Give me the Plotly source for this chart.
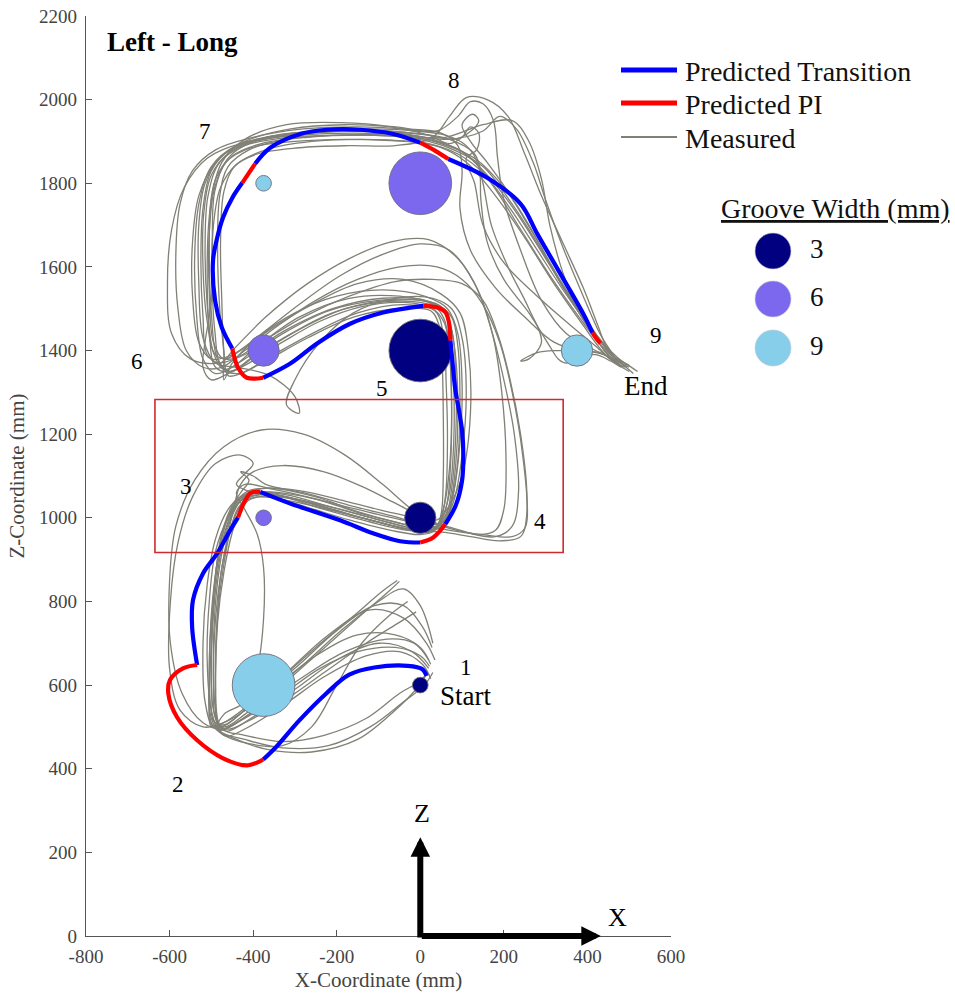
import plotly.graph_objects as go

FONT = "Liberation Serif, Times New Roman, serif"

# ---------------- data ----------------
# gates (targets) along the course, in order 1..9
gate_id = ["1", "2", "3", "4", "5", "6", "7", "8", "9"]
gate_x = [0, -375, -375, 0, 0, -375, -375, 0, 375]
gate_z = [600, 600, 1000, 1000, 1400, 1400, 1800, 1800, 1400]
gate_groove_mm = [3, 9, 6, 3, 3, 6, 9, 6, 9]
gate_diameter_mm = [37.5, 150, 37.5, 75, 150, 75, 37.5, 150, 75]

groove_widths = [3, 6, 9]
groove_colors = ["#000080", "#7b68ee", "#87ceeb"]

# predicted trajectory: transition segments and point-of-interest (PI) segments
transition_segments = [
    [(15, 622), (5, 638), (-30, 646), (-110, 642), (-170, 625), (-225, 580), (-290, 515), (-345, 452), (-376, 422)],
    [(-534, 648), (-546, 738), (-544, 803), (-520, 867), (-486, 915), (-455, 970), (-436, 1001)],
    [(-383, 1062), (-311, 1034), (-192, 994), (-113, 963), (-48, 944), (0, 941)],
    [(60, 985), (85, 1030), (100, 1089), (103, 1150), (100, 1209), (92, 1260), (84, 1305), (76, 1383), (72, 1424)],
    [(7, 1507), (-89, 1491), (-168, 1464), (-247, 1417), (-311, 1369), (-376, 1335)],
    [(-450, 1405), (-475, 1455), (-491, 1519), (-496, 1615), (-486, 1670), (-472, 1718), (-450, 1765), (-426, 1801)],
    [(-395, 1847), (-359, 1885), (-287, 1918), (-223, 1928), (-144, 1928), (-65, 1918), (0, 1897)],
    [(67, 1858), (160, 1813), (240, 1751), (280, 1679), (335, 1584), (390, 1488), (412, 1443)],
]
pi_segments = [
    [(-376, 422), (-414, 408), (-472, 425), (-534, 468), (-582, 523), (-603, 580), (-599, 612), (-568, 640), (-534, 648)],
    [(-436, 1001), (-420, 1040), (-405, 1060), (-383, 1062)],
    [(0, 941), (31, 953), (60, 985)],
    [(72, 1424), (68, 1470), (60, 1492), (41, 1503), (7, 1507)],
    [(-376, 1335), (-415, 1335), (-436, 1359), (-450, 1405)],
    [(-426, 1801), (-410, 1825), (-395, 1847)],
    [(0, 1897), (35, 1878), (67, 1858)],
    [(412, 1443), (422, 1428), (431, 1417)],
]

# measured hand trajectories (X, Z in mm)
run_01 = [(25, 650), (0, 690), (-60, 720), (-150, 720), (-250, 670), (-340, 600), (-420, 530), (-470, 500), (-490, 520), (-495, 620), (-490, 760), (-475, 880), (-455, 970), (-435, 1025), (-405, 1050), (-350, 1055), (-250, 1030), (-140, 1000), (-40, 975), (20, 965), (45, 985), (60, 1050), (65, 1180), (62, 1320), (55, 1440), (35, 1495), (-40, 1510), (-150, 1490), (-260, 1440), (-360, 1385), (-435, 1345), (-475, 1360), (-492, 1450), (-498, 1580), (-495, 1700), (-478, 1790), (-440, 1845), (-370, 1880), (-260, 1900), (-140, 1905), (-30, 1900), (50, 1885), (110, 1850), (180, 1770), (250, 1670), (320, 1560), (390, 1460), (430, 1405), (460, 1375), (490, 1360)]
run_02 = [(30, 630), (10, 600), (-40, 560), (-120, 500), (-220, 455), (-330, 450), (-420, 470), (-480, 490), (-500, 540), (-510, 660), (-505, 800), (-490, 920), (-460, 1000), (-430, 1040), (-390, 1060), (-320, 1055), (-210, 1025), (-100, 995), (-10, 975), (40, 980), (70, 1030), (85, 1130), (90, 1280), (80, 1420), (60, 1490), (10, 1520), (-90, 1525), (-210, 1500), (-320, 1450), (-410, 1395), (-480, 1370), (-550, 1380), (-595, 1440), (-605, 1560), (-595, 1690), (-565, 1790), (-510, 1860), (-430, 1895), (-320, 1915), (-190, 1925), (-70, 1920), (30, 1905), (100, 1875), (160, 1820), (230, 1730), (300, 1620), (370, 1510), (420, 1440), (455, 1395), (480, 1370)]
run_03 = [(-50, 848), (-80, 820), (-150, 760), (-240, 680), (-330, 600), (-410, 530), (-470, 495), (-520, 510), (-570, 580), (-598, 700), (-600, 850), (-585, 980), (-540, 1090), (-470, 1170), (-380, 1210), (-280, 1200), (-180, 1150), (-90, 1080), (-20, 1020), (40, 985), (110, 965), (180, 955), (220, 980), (235, 1060), (225, 1200), (200, 1330), (170, 1450), (130, 1560), (70, 1640), (0, 1655), (-90, 1630), (-190, 1580), (-290, 1510), (-380, 1440), (-450, 1390), (-500, 1380), (-530, 1420), (-545, 1530), (-545, 1660), (-530, 1770), (-490, 1850), (-420, 1900), (-310, 1930), (-180, 1940), (-60, 1935), (40, 1925), (90, 1960), (120, 1995), (150, 1990), (175, 1950), (185, 1860), (200, 1760), (240, 1640), (290, 1520), (350, 1440), (410, 1405), (450, 1385), (500, 1360)]
run_04 = [(-10, 775), (-50, 750), (-130, 700), (-230, 630), (-330, 560), (-420, 510), (-465, 490), (-485, 515), (-490, 630), (-485, 770), (-470, 890), (-450, 985), (-425, 1035), (-390, 1050), (-310, 1040), (-200, 1015), (-100, 990), (-20, 970), (35, 975), (55, 1020), (70, 1120), (75, 1260), (70, 1400), (55, 1480), (20, 1515), (-70, 1520), (-180, 1500), (-290, 1450), (-390, 1390), (-455, 1350), (-485, 1380), (-500, 1490), (-505, 1630), (-500, 1760), (-475, 1850), (-420, 1905), (-320, 1940), (-190, 1945), (-70, 1935), (20, 1915), (70, 1895), (100, 1910), (120, 1935), (140, 1920), (135, 1880), (110, 1860), (130, 1800), (150, 1700), (200, 1610), (280, 1530), (360, 1460), (420, 1410), (460, 1375), (500, 1350)]
run_05 = [(15, 625), (-10, 590), (-60, 540), (-150, 470), (-260, 440), (-360, 445), (-440, 470), (-485, 495), (-470, 530), (-420, 560), (-390, 640), (-375, 760), (-375, 880), (-390, 960), (-420, 1020), (-440, 1060), (-420, 1080), (-360, 1070), (-250, 1045), (-140, 1010), (-40, 985), (30, 970), (60, 990), (80, 1060), (95, 1180), (100, 1320), (90, 1440), (65, 1500), (10, 1530), (-90, 1545), (-200, 1530), (-300, 1490), (-390, 1430), (-450, 1370), (-470, 1330), (-470, 1390), (-480, 1500), (-485, 1640), (-480, 1770), (-460, 1840), (-410, 1880), (-320, 1905), (-200, 1915), (-80, 1915), (20, 1900), (80, 1880), (150, 1840), (220, 1750), (290, 1640), (360, 1520), (410, 1450), (440, 1400), (470, 1370)]
run_06 = [(35, 660), (15, 700), (-40, 760), (-120, 780), (-220, 720), (-320, 630), (-410, 550), (-465, 505), (-495, 500), (-515, 560), (-520, 700), (-510, 840), (-490, 950), (-460, 1020), (-430, 1050), (-380, 1070), (-290, 1065), (-180, 1040), (-80, 1015), (10, 995), (80, 975), (140, 960), (180, 970), (200, 1020), (205, 1150), (195, 1300), (175, 1430), (140, 1540), (90, 1620), (20, 1665), (-70, 1660), (-170, 1620), (-270, 1560), (-370, 1480), (-440, 1410), (-480, 1370), (-510, 1390), (-520, 1480), (-525, 1610), (-520, 1740), (-500, 1830), (-455, 1880), (-370, 1910), (-250, 1925), (-120, 1930), (-10, 1925), (60, 1915), (110, 1890), (140, 1840), (145, 1760), (160, 1660), (200, 1570), (260, 1490), (310, 1410), (330, 1380), (350, 1370), (380, 1385), (420, 1390), (455, 1375), (480, 1360)]
run_07 = [(20, 640), (-20, 680), (-100, 700), (-200, 660), (-300, 590), (-390, 530), (-455, 495), (-480, 505), (-490, 600), (-487, 740), (-478, 860), (-460, 960), (-445, 1030), (-430, 1080), (-400, 1110), (-330, 1125), (-230, 1110), (-140, 1075), (-60, 1035), (0, 1005), (40, 995), (70, 1030), (100, 1100), (120, 1250), (115, 1400), (95, 1490), (50, 1535), (-40, 1570), (-150, 1560), (-260, 1510), (-360, 1450), (-430, 1400), (-470, 1380), (-495, 1420), (-505, 1540), (-505, 1680), (-492, 1790), (-460, 1860), (-400, 1900), (-300, 1920), (-170, 1925), (-50, 1920), (60, 1905), (150, 1925), (190, 1960), (230, 1930), (270, 1850), (300, 1760), (340, 1650), (390, 1530), (430, 1440), (455, 1400), (475, 1370)]
run_08 = [(25, 615), (5, 650), (-50, 680), (-130, 670), (-230, 620), (-330, 550), (-420, 495), (-465, 478), (-485, 500), (-490, 610), (-485, 750), (-470, 870), (-450, 965), (-430, 1020), (-405, 1045), (-360, 1050), (-270, 1025), (-170, 995), (-70, 970), (0, 960), (35, 970), (50, 1010), (55, 1100), (55, 1250), (52, 1380), (45, 1460), (25, 1495), (-50, 1500), (-160, 1480), (-270, 1430), (-370, 1375), (-430, 1345), (-460, 1340), (-470, 1400), (-475, 1520), (-478, 1660), (-470, 1780), (-445, 1840), (-390, 1870), (-290, 1885), (-170, 1890), (-60, 1890), (30, 1910), (70, 1960), (110, 2005), (160, 2000), (210, 1960), (250, 1870), (290, 1770), (340, 1660), (390, 1550), (425, 1460), (445, 1410), (470, 1380), (500, 1365)]
run_09 = [(30, 700), (0, 790), (-40, 830), (-100, 800), (-190, 730), (-290, 640), (-390, 560), (-460, 515), (-520, 500), (-575, 540), (-600, 640), (-598, 800), (-580, 940), (-545, 1050), (-490, 1130), (-430, 1150), (-400, 1130), (-420, 1105), (-440, 1080), (-400, 1060), (-300, 1045), (-190, 1020), (-80, 990), (0, 970), (60, 965), (120, 955), (190, 945), (240, 955), (255, 1010), (245, 1150), (220, 1300), (190, 1420), (150, 1510), (100, 1570), (40, 1600), (-50, 1600), (-150, 1570), (-250, 1520), (-340, 1460), (-420, 1400), (-475, 1360), (-520, 1360), (-560, 1400), (-580, 1500), (-585, 1630), (-575, 1750), (-545, 1830), (-490, 1880), (-400, 1910), (-280, 1930), (-150, 1935), (-40, 1930), (50, 1920), (90, 1890), (100, 1830), (95, 1740), (120, 1640), (180, 1550), (250, 1480), (320, 1420), (380, 1400), (430, 1395), (470, 1370)]
run_10 = [(20, 660), (-15, 700), (-80, 710), (-180, 680), (-280, 620), (-380, 550), (-450, 505), (-478, 495), (-492, 560), (-495, 690), (-488, 820), (-472, 930), (-452, 1000), (-430, 1040), (-395, 1055), (-330, 1050), (-230, 1020), (-120, 990), (-30, 970), (25, 968), (50, 995), (70, 1060), (80, 1180), (80, 1320), (72, 1440), (50, 1505), (0, 1520), (-100, 1520), (-220, 1495), (-330, 1440), (-420, 1380), (-470, 1355), (-495, 1395), (-510, 1510), (-515, 1650), (-508, 1770), (-480, 1850), (-420, 1890), (-310, 1910), (-180, 1915), (-60, 1912), (40, 1900), (110, 1870), (170, 1800), (240, 1690), (310, 1580), (380, 1480), (425, 1420), (455, 1385), (485, 1360)]
run_11 = [(-30, 800), (-70, 770), (-140, 700), (-200, 600), (-260, 500), (-330, 455), (-410, 460), (-470, 480), (-500, 510), (-505, 620), (-500, 770), (-485, 900), (-465, 990), (-440, 1040), (-410, 1065), (-350, 1070), (-250, 1050), (-150, 1015), (-60, 990), (10, 975), (55, 990), (80, 1040), (100, 1150), (110, 1300), (100, 1430), (75, 1500), (30, 1525), (-60, 1525), (-160, 1490), (-240, 1420), (-300, 1330), (-320, 1270), (-290, 1250), (-300, 1290), (-360, 1340), (-440, 1360), (-490, 1370), (-520, 1430), (-530, 1560), (-530, 1700), (-515, 1800), (-475, 1865), (-400, 1900), (-290, 1915), (-160, 1920), (-40, 1915), (50, 1895), (130, 1860), (200, 1790), (270, 1680), (340, 1560), (400, 1470), (440, 1410), (465, 1380), (495, 1360)]
run_12 = [(28, 690), (5, 740), (-40, 790), (-110, 790), (-200, 730), (-300, 640), (-400, 560), (-470, 510), (-500, 500), (-505, 560), (-500, 700), (-492, 840), (-478, 950), (-455, 1020), (-430, 1060), (-410, 1090), (-430, 1110), (-400, 1100), (-370, 1080), (-280, 1060), (-170, 1030), (-70, 1005), (10, 985), (55, 990), (75, 1040), (90, 1140), (95, 1280), (90, 1410), (75, 1480), (40, 1510), (-50, 1530), (-170, 1525), (-290, 1480), (-390, 1410), (-450, 1360), (-490, 1345), (-520, 1380), (-535, 1480), (-540, 1620), (-530, 1750), (-500, 1840), (-440, 1890), (-340, 1915), (-210, 1925), (-80, 1925), (20, 1915), (80, 1905), (115, 1920), (140, 1950), (125, 1965), (100, 1940), (120, 1900), (160, 1850), (210, 1780), (260, 1700), (320, 1590), (380, 1490), (425, 1430), (460, 1390), (510, 1345)]
run_13 = [(18, 632), (0, 610), (-50, 580), (-130, 520), (-230, 480), (-330, 465), (-420, 480), (-475, 495), (-495, 540), (-500, 670), (-495, 810), (-480, 930), (-458, 1005), (-432, 1045), (-395, 1060), (-320, 1050), (-210, 1020), (-110, 992), (-20, 972), (30, 970), (60, 1000), (75, 1070), (85, 1200), (85, 1340), (75, 1450), (50, 1500), (0, 1515), (-100, 1515), (-210, 1490), (-310, 1440), (-400, 1385), (-455, 1350), (-490, 1360), (-505, 1450), (-510, 1590), (-505, 1720), (-490, 1810), (-450, 1865), (-380, 1895), (-270, 1910), (-140, 1915), (-30, 1912), (60, 1910), (150, 1940), (220, 1950), (260, 1900), (290, 1810), (310, 1700), (340, 1590), (380, 1490), (420, 1430), (450, 1395), (490, 1370), (520, 1350)]
run_14 = [(22, 645), (0, 670), (-60, 690), (-150, 680), (-240, 640), (-340, 570), (-430, 515), (-480, 492), (-500, 520), (-505, 640), (-498, 780), (-483, 900), (-462, 985), (-440, 1035), (-415, 1055), (-360, 1058), (-260, 1035), (-160, 1005), (-70, 982), (5, 968), (40, 978), (62, 1025), (72, 1120), (75, 1260), (70, 1390), (58, 1465), (30, 1500), (-40, 1515), (-140, 1505), (-240, 1470), (-330, 1420), (-410, 1370), (-460, 1345), (-500, 1330), (-520, 1360), (-515, 1420), (-500, 1520), (-498, 1660), (-492, 1780), (-465, 1850), (-405, 1885), (-300, 1900), (-180, 1905), (-70, 1902), (20, 1895), (90, 1870), (150, 1825), (215, 1740), (280, 1640), (345, 1540), (400, 1465), (440, 1415), (470, 1385), (495, 1365)]
run_15 = [(-55, 850), (-90, 825), (-160, 765), (-250, 690), (-340, 610), (-420, 540), (-470, 505), (-495, 515), (-500, 600), (-497, 740), (-485, 870), (-468, 960), (-445, 1020), (-420, 1050), (-380, 1062), (-300, 1055), (-190, 1030), (-90, 1005), (0, 985), (70, 970), (150, 960), (220, 955), (250, 975), (255, 1060), (240, 1200), (215, 1330), (185, 1440), (150, 1520), (100, 1560), (30, 1570), (-60, 1565), (-170, 1530), (-280, 1480), (-380, 1420), (-450, 1380), (-490, 1390), (-510, 1470), (-520, 1600), (-518, 1730), (-500, 1820), (-455, 1875), (-375, 1905), (-260, 1920), (-130, 1925), (-20, 1920), (70, 1905), (130, 1870), (150, 1800), (170, 1700), (210, 1600), (260, 1500), (290, 1420), (260, 1380), (240, 1375), (280, 1395), (330, 1400), (390, 1400), (440, 1390), (480, 1370)]
measured_runs = [run_01, run_02, run_03, run_04, run_05, run_06, run_07, run_08,
                 run_09, run_10, run_11, run_12, run_13, run_14, run_15]

# highlighted region (X range, Z range)
highlight_x = [-635, 342]
highlight_z = [917, 1283]

x_ticks = [-800, -600, -400, -200, 0, 200, 400, 600]
z_ticks = [0, 200, 400, 600, 800, 1000, 1200, 1400, 1600, 1800, 2000, 2200]

legend_names = ["Predicted Transition", "Predicted PI", "Measured"]

# ---------------- layout geometry ----------------
W, H = 955, 995
ML, MR, MT, MB = 86, 0, 16, 59
PLOT_W = W - ML - MR
X_RANGE = [-800, 600]
Z_RANGE = [0, 2200]
MAIN_PX = 585
px_per_mm = MAIN_PX / (X_RANGE[1] - X_RANGE[0])

BLUE = "#0000ff"
RED = "#ff0000"
GRAY = "rgb(128,128,118)"
AXIS = "#555555"

color_of = dict(zip(groove_widths, groove_colors))


def join_segments(segs):
    xs, ys = [], []
    for seg in segs:
        xs += [p[0] for p in seg] + [None]
        ys += [p[1] for p in seg] + [None]
    return xs, ys


fig = go.Figure()

# measured runs
for run in measured_runs:
    fig.add_trace(go.Scatter(
        x=[p[0] for p in run], y=[p[1] for p in run], mode="lines",
        line=dict(color=GRAY, width=1.3, shape="spline", smoothing=1.0),
        showlegend=False, hoverinfo="skip",
    ))

# gate targets
fig.add_trace(go.Scatter(
    x=gate_x, y=gate_z, mode="markers", showlegend=False, hoverinfo="skip",
    marker=dict(size=[d * px_per_mm for d in gate_diameter_mm],
                color=[color_of[g] for g in gate_groove_mm],
                opacity=1, line=dict(color="rgba(110,110,120,0.9)", width=1)),
))

# predicted path
tx, ty = join_segments(transition_segments)
fig.add_trace(go.Scatter(x=tx, y=ty, mode="lines", showlegend=False, hoverinfo="skip",
                         line=dict(color=BLUE, width=4.2, shape="spline", smoothing=1.0)))
rx, ry = join_segments(pi_segments)
fig.add_trace(go.Scatter(x=rx, y=ry, mode="lines", showlegend=False, hoverinfo="skip",
                         line=dict(color=RED, width=4.2, shape="spline", smoothing=1.0)))

# ---------------- legends (drawn on a page-pixel overlay axis) ----------------
leg_rows = [70, 103, 137]
leg_styles = [dict(color=BLUE, width=5), dict(color=RED, width=5), dict(color=GRAY, width=1.8)]
for name, row, st in zip(legend_names, leg_rows, leg_styles):
    fig.add_trace(go.Scatter(x=[621, 677], y=[row, row], mode="lines", line=st,
                             xaxis="x2", yaxis="y2", showlegend=False, hoverinfo="skip"))

groove_rows = [251, 299, 348]
fig.add_trace(go.Scatter(
    x=[773] * len(groove_widths), y=groove_rows, mode="markers+text",
    marker=dict(size=36, color=groove_colors, line=dict(color="rgba(200,200,210,0.6)", width=1)),
    text=["  " + str(g) for g in groove_widths], textposition="middle right",
    textfont=dict(family=FONT, size=27, color="#111"),
    xaxis="x2", yaxis="y2", showlegend=False, hoverinfo="skip",
))

annotations = []
for name, row in zip(legend_names, leg_rows):
    annotations.append(dict(x=683, y=row + 1, xref="x2", yref="y2", text=name, showarrow=False,
                            xanchor="left", yanchor="middle",
                            font=dict(family=FONT, size=28, color="#111")))
annotations.append(dict(x=835, y=208, xref="x2", yref="y2", text="<u>Groove Width (mm)</u>",
                        showarrow=False, xanchor="center", yanchor="middle",
                        font=dict(family=FONT, size=28, color="#111")))
annotations.append(dict(x=105, y=42, xref="x2", yref="y2", text="<b>Left - Long</b>",
                        showarrow=False, xanchor="left", yanchor="middle",
                        font=dict(family=FONT, size=27, color="#000")))

# gate numbers and start / end labels
label_pos = {
    "1": (110, 643), "2": (-580, 363), "3": (-560, 1075), "4": (287, 991), "5": (-91, 1309),
    "6": (-678, 1374), "7": (-515, 1925), "8": (81, 2045), "9": (563, 1436),
}
for gid in gate_id:
    lx, lz = label_pos[gid]
    annotations.append(dict(x=lx, y=lz, xref="x", yref="y", text=gid, showarrow=False,
                            font=dict(family=FONT, size=23, color="#000")))
annotations.append(dict(x=108, y=573, xref="x", yref="y", text="Start", showarrow=False,
                        font=dict(family=FONT, size=27, color="#000")))
annotations.append(dict(x=541, y=1316, xref="x", yref="y", text="End", showarrow=False,
                        font=dict(family=FONT, size=27, color="#000")))

# coordinate frame arrows
annotations.append(dict(x=0, y=236, ax=0, ay=-7, xref="x", yref="y", axref="x", ayref="y",
                        text="", showarrow=True, arrowhead=2, arrowsize=0.65, arrowwidth=6,
                        arrowcolor="#000", standoff=0, startstandoff=0))
annotations.append(dict(x=432, y=0, ax=0, ay=0, xref="x", yref="y", axref="x", ayref="y",
                        text="", showarrow=True, arrowhead=2, arrowsize=0.65, arrowwidth=6,
                        arrowcolor="#000", standoff=0, startstandoff=0))
annotations.append(dict(x=3, y=292, xref="x", yref="y", text="Z", showarrow=False,
                        font=dict(family=FONT, size=26, color="#000")))
annotations.append(dict(x=472, y=45, xref="x", yref="y", text="X", showarrow=False,
                        font=dict(family=FONT, size=26, color="#000")))

shapes = [dict(type="rect", xref="x", yref="y",
               x0=highlight_x[0], x1=highlight_x[1], y0=highlight_z[0], y1=highlight_z[1],
               line=dict(color="#d02b2b", width=1.6), fillcolor="rgba(0,0,0,0)", layer="above")]

axis_common = dict(showgrid=False, zeroline=False, showline=True, linecolor=AXIS, linewidth=1.2,
                   ticks="inside", ticklen=6, tickwidth=1.2, tickcolor=AXIS, automargin=False,
                   tickfont=dict(family=FONT, size=19, color="#444"))

fig.update_layout(
    width=W, height=H,
    margin=dict(l=ML, r=MR, t=MT, b=MB, pad=0, autoexpand=False),
    paper_bgcolor="white", plot_bgcolor="rgba(0,0,0,0)",
    showlegend=False,
    xaxis=dict(range=X_RANGE, domain=[0, MAIN_PX / PLOT_W], tickvals=x_ticks,
               ticktext=[str(v) for v in x_ticks], anchor="y",
               title=dict(text="X-Coordinate (mm)", font=dict(family=FONT, size=21, color="#444"),
                          standoff=6),
               ticklabelstandoff=3, **axis_common),
    yaxis=dict(range=Z_RANGE, domain=[0, 1], tickvals=z_ticks,
               ticktext=[str(v) for v in z_ticks], anchor="x",
               title=dict(text="Z-Coordinate (mm)", font=dict(family=FONT, size=21, color="#444"),
                          standoff=8),
               ticklabelstandoff=4, **axis_common),
    xaxis2=dict(range=[ML, W - MR], domain=[0, 1], anchor="y2", visible=False, fixedrange=True),
    yaxis2=dict(range=[H - MB, MT], domain=[0, 1], anchor="x2", visible=False, fixedrange=True),
    annotations=annotations,
    shapes=shapes,
)

fig.write_html("out.html")
